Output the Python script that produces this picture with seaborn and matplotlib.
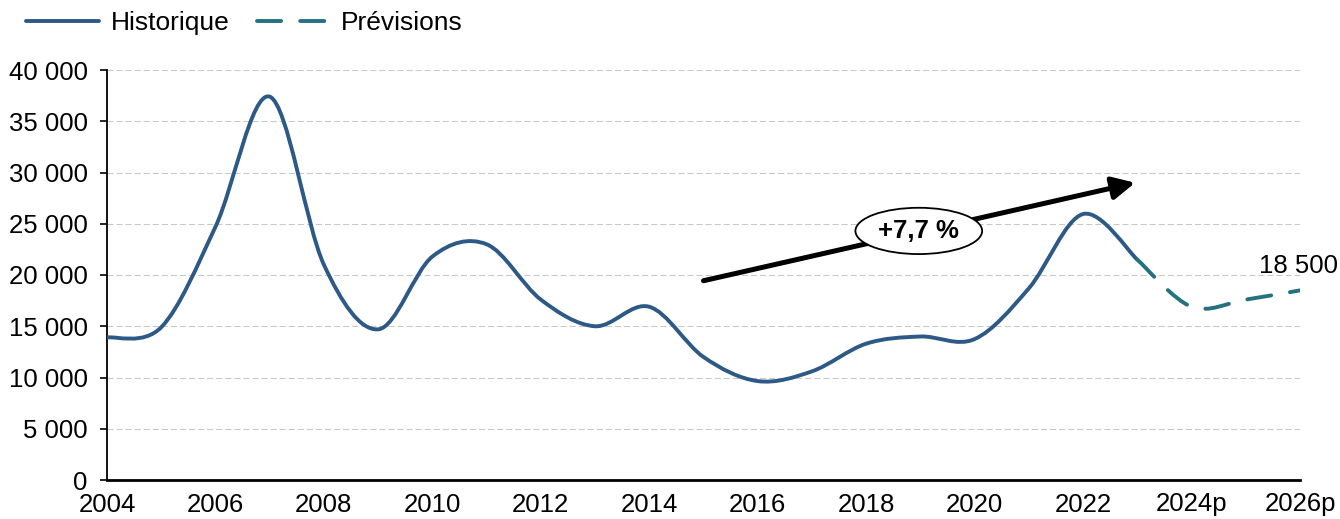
import matplotlib
matplotlib.use("Agg")
import matplotlib.pyplot as plt
from matplotlib.path import Path
from matplotlib.patches import PathPatch
from matplotlib.lines import Line2D
from matplotlib.ticker import FuncFormatter
import seaborn as sns

# Données (lecture du graphique)
years_hist = [2004, 2005, 2006, 2007, 2008, 2009, 2010, 2011, 2012, 2013,
              2014, 2015, 2016, 2017, 2018, 2019, 2020, 2021, 2022, 2023]
values_hist = [13900, 14900, 24700, 37400, 21000, 14700, 21800, 23000, 17600, 15000,
               16900, 12000, 9650, 10600, 13300, 14000, 13750, 18700, 25950, 21500]
years_prev = [2023, 2024, 2025, 2026]
values_prev = [21500, 16900, 17600, 18500]
tick_years = list(range(2004, 2027, 2))
tick_labels = [str(y) if y < 2024 else f"{y}p" for y in tick_years]

COL_HIST = "#2C5985"
COL_PREV = "#24727F"
FS = 18.5

sns.set_theme(style="white")
plt.rcParams['font.family'] = ['Liberation Sans', 'DejaVu Sans']
plt.rcParams['text.color'] = 'black'


def smooth_path(xs, ys):
    # courbe lissée façon Excel (Bézier cubique, tension 1/6)
    pts = list(zip(xs, ys))
    n = len(pts)
    verts = [pts[0]]
    codes = [Path.MOVETO]
    for i in range(n - 1):
        p0 = pts[i - 1] if i > 0 else pts[i]
        p1 = pts[i]
        p2 = pts[i + 1]
        p3 = pts[i + 2] if i + 2 < n else pts[i + 1]
        c1 = (p1[0] + (p2[0] - p0[0]) / 6, p1[1] + (p2[1] - p0[1]) / 6)
        c2 = (p2[0] - (p3[0] - p1[0]) / 6, p2[1] - (p3[1] - p1[1]) / 6)
        verts += [c1, c2, p2]
        codes += [Path.CURVE4] * 3
    return Path(verts, codes)


fig = plt.figure(figsize=(13.4, 5.19), dpi=100)
ax = fig.add_axes([107 / 1340, 1 - 480 / 519, (1300 - 107) / 1340, (480 - 70) / 519])
ax.set_xlim(2004, 2026)
ax.set_ylim(0, 40000)

LW = 2.8
DASH = (0, (6.2, 4.9))

hist = PathPatch(smooth_path(years_hist, values_hist), fill=False,
                 edgecolor=COL_HIST, lw=LW, capstyle='round', joinstyle='round', zorder=3)
prev = PathPatch(smooth_path(years_prev, values_prev), fill=False,
                 edgecolor=COL_PREV, lw=LW, linestyle=DASH, capstyle='round', zorder=3)
ax.add_patch(hist)
ax.add_patch(prev)

# axes et grille
ax.set_xticks(tick_years)
ax.set_xticklabels(tick_labels)
ax.set_yticks(range(0, 40001, 5000))
ax.yaxis.set_major_formatter(FuncFormatter(lambda v, p: f"{v:,.0f}".replace(",", " ")))
ax.yaxis.grid(True, linestyle=(0, (5.8, 2.9)), color='#C8C8C8', lw=0.75)
ax.set_axisbelow(True)
ax.tick_params(axis='y', length=5, width=1.2, pad=9, direction='out', left=True,
               labelsize=FS, colors='black')
ax.tick_params(axis='x', length=0, pad=9, labelsize=FS, colors='black')
sns.despine(ax=ax)
ax.spines['left'].set_color('black')
ax.spines['left'].set_linewidth(1.3)
ax.spines['bottom'].set_color('black')
ax.spines['bottom'].set_linewidth(2)

# flèche de tendance
ax.annotate("", xy=(2022.96, 29000), xytext=(2015.0, 19440),
            arrowprops=dict(arrowstyle='-|>,head_length=0.8,head_width=0.4',
                            mutation_scale=17, lw=3.6, color='black',
                            shrinkA=0, shrinkB=0), zorder=4)
ax.text(2018.97, 24300, "+7,7 %", fontsize=FS, fontweight='bold', ha='center', va='center',
        color='black',
        bbox=dict(boxstyle='ellipse,pad=0.17', fc='white', ec='black', lw=1.3), zorder=5)

ax.text(2025.97, 20200, "18 500", fontsize=FS, ha='center', va='baseline', color='black')

# légende
handles = [Line2D([], [], color=COL_HIST, lw=LW, solid_capstyle='round'),
           Line2D([], [], color=COL_PREV, lw=LW, linestyle=DASH, dash_capstyle='round')]
leg = fig.legend(handles, ["Historique", "Prévisions"], loc='center left',
                 bbox_to_anchor=(26 / 1340, 1 - 23 / 519), ncol=2, frameon=False,
                 handlelength=2.75, handletextpad=0.45, columnspacing=1.05,
                 borderpad=0, borderaxespad=0, fontsize=19)
for t in leg.get_texts():
    t.set_color('black')

fig.savefig("out.png", dpi=100)
